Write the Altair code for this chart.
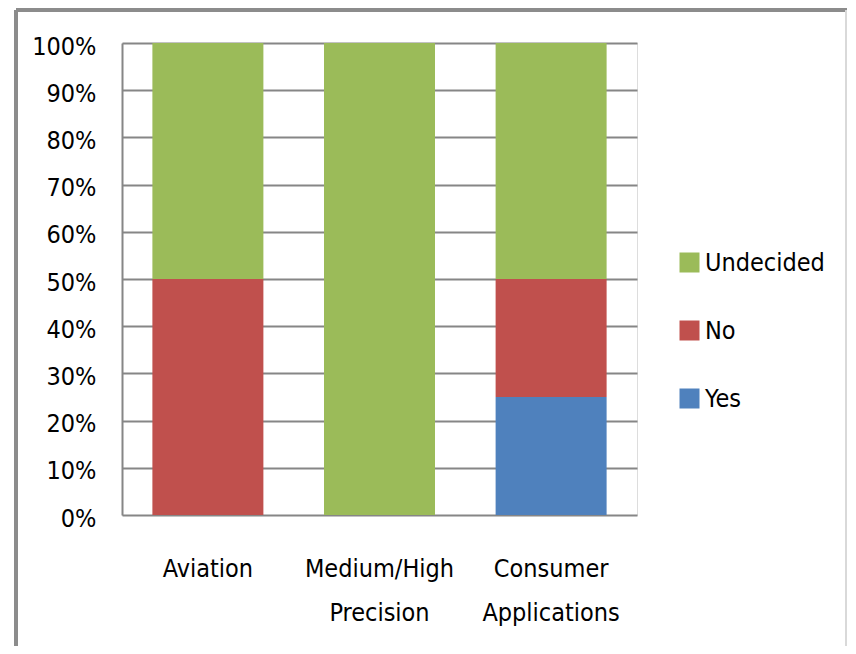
import altair as alt
import pandas as pd

categories = ["Aviation", "Medium/High Precision", "Consumer Applications"]
responses = ["Yes", "No", "Undecided"]
yes_vals = [0.0, 0.0, 0.25]
no_vals = [0.5, 0.0, 0.25]
undecided_vals = [0.5, 1.0, 0.5]

rows = []
for i, c in enumerate(categories):
    for k, (r, vals) in enumerate(zip(responses, [yes_vals, no_vals, undecided_vals])):
        rows.append({"category": c, "response": r, "value": vals[i], "ord": k})
df = pd.DataFrame(rows)

FONT = "Liberation Sans Narrow, DejaVu Sans Condensed, sans-serif"
FS = 25

bars = alt.Chart(df).mark_bar(size=111).encode(
    x=alt.X("category:N", sort=categories, title=None,
            scale=alt.Scale(paddingInner=0.353, paddingOuter=0.177),
            axis=alt.Axis(labelAngle=0, labelFont=FONT, labelFontSize=FS,
                          labelColor="#000000", labelPadding=41,
                          labelLineHeight=44, labelBaseline="top",
                          labelExpr="split(datum.label, ' ')",
                          domain=False, ticks=False, grid=False)),
    y=alt.Y("value:Q", stack="zero", title=None,
            scale=alt.Scale(domain=[0, 1]),
            axis=alt.Axis(values=[i / 10 for i in range(11)], format=".0%",
                          labelFont=FONT, labelFontSize=FS, labelColor="#000000",
                          labelPadding=26, labelOffset=3, ticks=False, domain=True,
                          domainColor="#868686", domainWidth=2,
                          grid=True, gridColor="#868686", gridWidth=2)),
    color=alt.Color("response:N",
                    scale=alt.Scale(domain=["Undecided", "No", "Yes"],
                                    range=["#9BBB59", "#C0504D", "#4F81BD"]),
                    legend=alt.Legend(title=None, orient="none", legendX=555,
                                      legendY=207, symbolType="square",
                                      symbolSize=400, symbolStrokeWidth=0,
                                      labelFont=FONT, labelFontSize=FS,
                                      labelColor="#000000", labelOffset=3,
                                      rowPadding=42, padding=0)),
    order=alt.Order("ord:Q", sort="ascending"),
)

frame_top = alt.Chart(df).mark_rule(color="#8c8c8c", strokeWidth=3).encode(
    x=alt.value(-106), x2=alt.value(725), y=alt.value(-33))
frame_left = alt.Chart(df).mark_rule(color="#8c8c8c", strokeWidth=3).encode(
    x=alt.value(-106), y=alt.value(-33), y2=alt.value(603))
frame_right = alt.Chart(df).mark_rule(color="#d9d9d9", strokeWidth=2).encode(
    x=alt.value(724), y=alt.value(-33), y2=alt.value(603))

chart = alt.layer(frame_top, frame_left, frame_right, bars).properties(
    width=515, height=472,
    autosize=alt.AutoSizeParams(type="none"),
    padding={"left": 114, "top": 35, "right": 211, "bottom": 131},
).configure_view(stroke=None).configure(background="white")

chart.save("out.html", embed_options={"renderer": "svg", "actions": False})
